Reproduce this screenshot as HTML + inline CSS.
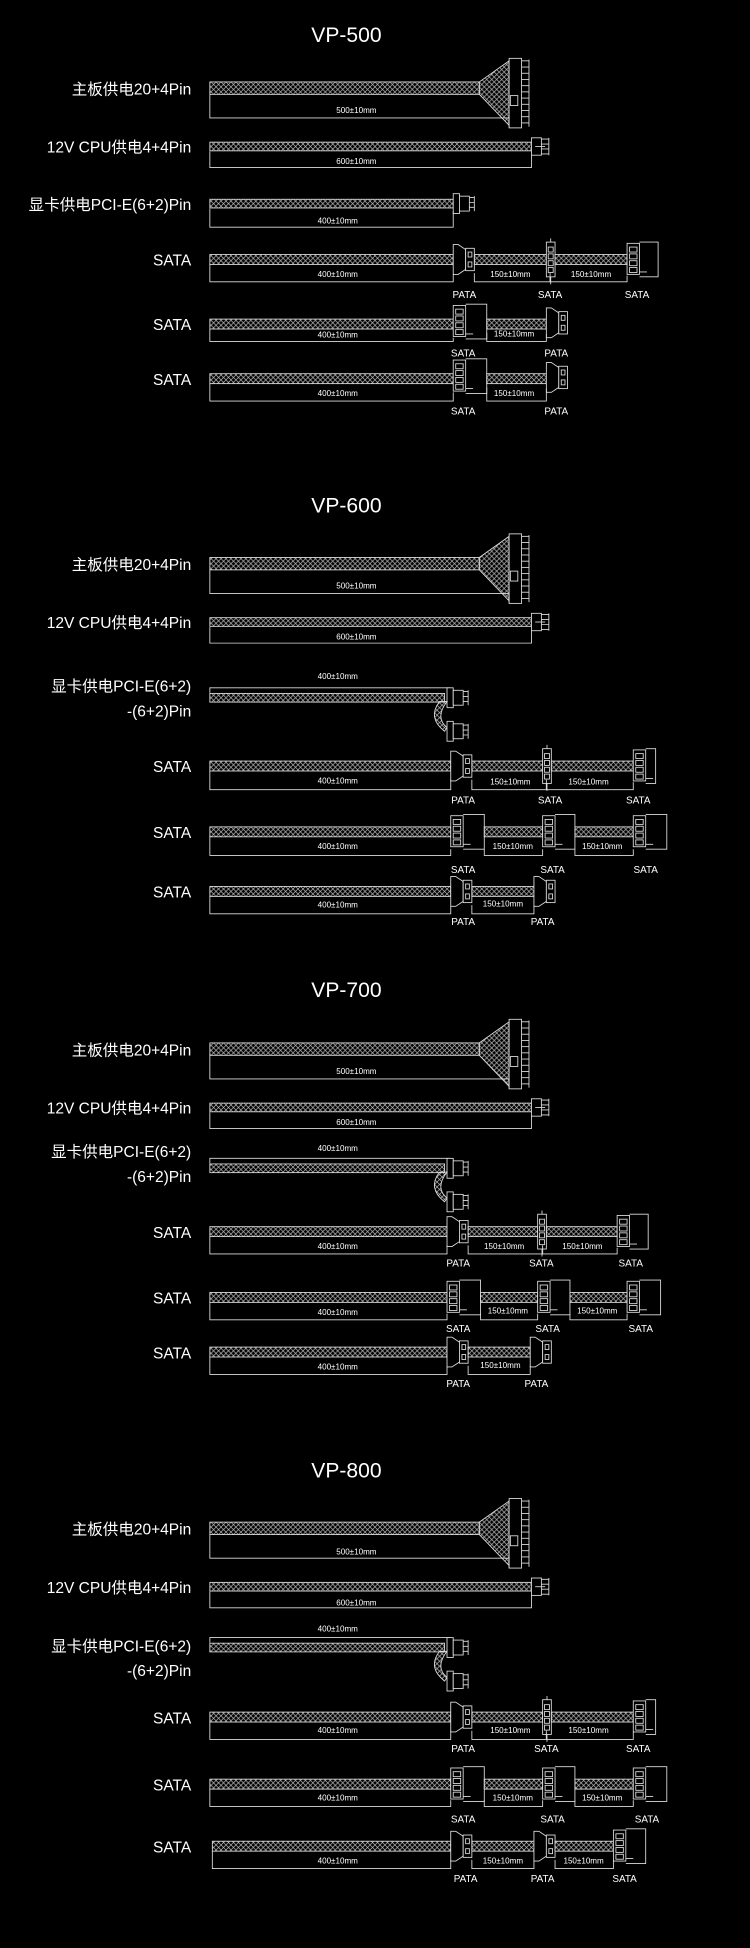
<!DOCTYPE html>
<html><head><meta charset="utf-8"><style>
html,body{margin:0;padding:0;background:#000;}
svg{display:block}
text{fill:#fff;font-family:"Liberation Sans","Noto Sans CJK SC",sans-serif;}
.t{font-size:17px;text-anchor:middle}
.l{font-size:12.5px;text-anchor:end}
.d{font-size:6.5px;text-anchor:middle}
.c{font-size:8px;text-anchor:middle}
</style></head><body>
<svg id="s" width="750" height="1948" viewBox="0 0 604 1569" preserveAspectRatio="none" xmlns="http://www.w3.org/2000/svg">
<defs>
<pattern id="br" width="4" height="4" patternUnits="userSpaceOnUse">
<path d="M0 0L4 4M4 0L0 4" stroke="#bbb" stroke-width="0.55"/>
</pattern>
</defs>
<g id="g" fill="none" stroke="#ddd" stroke-width="0.7"></g>
<text class="t" x="279" y="34">VP-500</text>
<text class="t" x="279" y="413">VP-600</text>
<text class="t" x="279" y="803">VP-700</text>
<text class="t" x="279" y="1190">VP-800</text>
<text class="l" x="154" y="76">主板供电20+4Pin</text>
<text class="l" x="154" y="123">12V CPU供电4+4Pin</text>
<text class="l" x="154" y="169">显卡供电PCI-E(6+2)Pin</text>
<text class="l" x="154" y="214">SATA</text>
<text class="l" x="154" y="266">SATA</text>
<text class="l" x="154" y="310">SATA</text>
<text class="d" x="287" y="91">500±10mm</text>
<text class="d" x="287" y="132">600±10mm</text>
<text class="d" x="272" y="180">400±10mm</text>
<text class="d" x="272" y="223">400±10mm</text>
<text class="d" x="411" y="223">150±10mm</text>
<text class="d" x="476" y="223">150±10mm</text>
<text class="c" x="374" y="240">PATA</text><text class="c" x="443" y="240">SATA</text><text class="c" x="513" y="240">SATA</text>
<text class="d" x="272" y="272">400±10mm</text>
<text class="d" x="414" y="271">150±10mm</text>
<text class="c" x="373" y="287">SATA</text><text class="c" x="448" y="287">PATA</text>
<text class="d" x="272" y="319">400±10mm</text>
<text class="d" x="414" y="319">150±10mm</text>
<text class="c" x="373" y="334">SATA</text><text class="c" x="448" y="334">PATA</text>
<text class="l" x="154" y="459">主板供电20+4Pin</text>
<text class="l" x="154" y="506">12V CPU供电4+4Pin</text>
<text class="l" x="154" y="557">显卡供电PCI-E(6+2)</text>
<text class="l" x="154" y="577">-(6+2)Pin</text>
<text class="l" x="154" y="622">SATA</text>
<text class="l" x="154" y="675">SATA</text>
<text class="l" x="154" y="723">SATA</text>
<text class="d" x="287" y="474">500±10mm</text>
<text class="d" x="287" y="515">600±10mm</text>
<text class="d" x="272" y="547">400±10mm</text>
<text class="d" x="272" y="631">400±10mm</text>
<text class="d" x="411" y="632">150±10mm</text>
<text class="d" x="474" y="632">150±10mm</text>
<text class="c" x="373" y="647">PATA</text><text class="c" x="443" y="647">SATA</text><text class="c" x="514" y="647">SATA</text>
<text class="d" x="272" y="684">400±10mm</text>
<text class="d" x="413" y="684">150±10mm</text>
<text class="d" x="485" y="684">150±10mm</text>
<text class="c" x="373" y="703">SATA</text><text class="c" x="445" y="703">SATA</text><text class="c" x="520" y="703">SATA</text>
<text class="d" x="272" y="731">400±10mm</text>
<text class="d" x="405" y="730">150±10mm</text>
<text class="c" x="373" y="745">PATA</text><text class="c" x="437" y="745">PATA</text>
<text class="l" x="154" y="850">主板供电20+4Pin</text>
<text class="l" x="154" y="897">12V CPU供电4+4Pin</text>
<text class="l" x="154" y="932">显卡供电PCI-E(6+2)</text>
<text class="l" x="154" y="952">-(6+2)Pin</text>
<text class="l" x="154" y="997">SATA</text>
<text class="l" x="154" y="1050">SATA</text>
<text class="l" x="154" y="1094">SATA</text>
<text class="d" x="287" y="865">500±10mm</text>
<text class="d" x="287" y="906">600±10mm</text>
<text class="d" x="272" y="927">400±10mm</text>
<text class="d" x="272" y="1006">400±10mm</text>
<text class="d" x="406" y="1006">150±10mm</text>
<text class="d" x="469" y="1006">150±10mm</text>
<text class="c" x="369" y="1020">PATA</text><text class="c" x="436" y="1020">SATA</text><text class="c" x="508" y="1020">SATA</text>
<text class="d" x="272" y="1059">400±10mm</text>
<text class="d" x="409" y="1058">150±10mm</text>
<text class="d" x="481" y="1058">150±10mm</text>
<text class="c" x="369" y="1073">SATA</text><text class="c" x="441" y="1073">SATA</text><text class="c" x="516" y="1073">SATA</text>
<text class="d" x="272" y="1103">400±10mm</text>
<text class="d" x="403" y="1102">150±10mm</text>
<text class="c" x="369" y="1117">PATA</text><text class="c" x="432" y="1117">PATA</text>
<text class="l" x="154" y="1236">主板供电20+4Pin</text>
<text class="l" x="154" y="1283">12V CPU供电4+4Pin</text>
<text class="l" x="154" y="1330">显卡供电PCI-E(6+2)</text>
<text class="l" x="154" y="1350">-(6+2)Pin</text>
<text class="l" x="154" y="1388">SATA</text>
<text class="l" x="154" y="1442">SATA</text>
<text class="l" x="154" y="1492">SATA</text>
<text class="d" x="287" y="1252">500±10mm</text>
<text class="d" x="287" y="1293">600±10mm</text>
<text class="d" x="272" y="1314">400±10mm</text>
<text class="d" x="272" y="1396">400±10mm</text>
<text class="d" x="411" y="1396">150±10mm</text>
<text class="d" x="474" y="1396">150±10mm</text>
<text class="c" x="373" y="1411">PATA</text><text class="c" x="440" y="1411">SATA</text><text class="c" x="514" y="1411">SATA</text>
<text class="d" x="272" y="1450">400±10mm</text>
<text class="d" x="413" y="1450">150±10mm</text>
<text class="d" x="485" y="1450">150±10mm</text>
<text class="c" x="373" y="1468">SATA</text><text class="c" x="445" y="1468">SATA</text><text class="c" x="521" y="1468">SATA</text>
<text class="d" x="272" y="1501">400±10mm</text>
<text class="d" x="405" y="1501">150±10mm</text>
<text class="d" x="470" y="1501">150±10mm</text>
<text class="c" x="375" y="1516">PATA</text><text class="c" x="437" y="1516">PATA</text><text class="c" x="503" y="1516">SATA</text>
</svg>
<script>
var G=document.getElementById('g'),NS='http://www.w3.org/2000/svg';
function el(t,a){var e=document.createElementNS(NS,t);for(var k in a)e.setAttribute(k,a[k]);G.appendChild(e);return e;}
function R(x,y,w,h,f){el('rect',{x:x,y:y,width:w,height:h,fill:f||'#000'});}
function P(d,f){el('path',{d:d,fill:f||'none'});}
function cab(x1,x2,cy,h){h=h||8;R(x1,cy-h/2,x2-x1,h,'url(#br)');}
function dim(x1,x2,y,t1,t2){P('M'+x1+' '+t1+'V'+y+'H'+x2+'V'+(t2==null?t1:t2));}
function atx(cy){
 cab(169,386,cy,10);
 P('M386 '+(cy-5)+'L410 '+(cy-22)+'V'+(cy+30)+'L386 '+(cy+5)+'Z','url(#br)');
 R(410,cy-24,10,56);R(411,cy+6,6,8);
 for(var i=0;i<11;i++){P('M420 '+(cy-22+i*5)+'H426');}
 P('M426 '+(cy-23)+'V'+(cy+31));
 dim(169,410,cy+24,cy+5,cy+32);
}
function eps(cy){cab(169,428,cy,7);R(428,cy-7,8,14);P('M436 '+(cy-6)+'H442M436 '+(cy-2)+'H442M436 '+(cy+2)+'H442M436 '+(cy+6)+'H442M442 '+(cy-7)+'V'+(cy+7));P('M431 '+cy+'H439');dim(169,428,cy+17,cy+4,cy+7);}
function pcie(x,cy){R(x,cy-8,5,16);R(x+5,cy-6,8,12);P('M'+(x+13)+' '+(cy-5)+'H'+(x+17)+'M'+(x+13)+' '+(cy-1)+'H'+(x+17)+'M'+(x+13)+' '+(cy+3)+'H'+(x+17)+'M'+(x+17)+' '+(cy-6)+'V'+(cy+6));}
function pata(x,cy){P('M'+x+' '+(cy-12)+'H'+(x+4)+'L'+(x+10)+' '+(cy-8)+'V'+(cy+8)+'L'+(x+4)+' '+(cy+12)+'H'+x+'Z','#000');R(x+10,cy-9,7,18);R(x+12,cy-6,3,4);R(x+12,cy+2,3,4);}
function sata(x,cy,w){w=w||27;R(x,cy-13,10,25);for(var i=0;i<4;i++)R(x+2,cy-10+i*5.5,6,4);P('M'+(x+10)+' '+(cy-14)+'H'+(x+w)+'V'+(cy+14)+'H'+(x+10)+'M'+(x+10)+' '+(cy+10)+'H'+(x+16),'none');}
function sInl(x,cy){R(x,cy-14,7,28);for(var i=0;i<4;i++)R(x+1.5,cy-10+i*5.5,4,4);P('M'+(x+3.5)+' '+(cy-17)+'V'+(cy-14)+'M'+(x+3.5)+' '+(cy+14)+'V'+(cy+20));}
function pcieRow(cy){cab(169,358,cy,7);dim(169,362,cy-8,cy-4,cy-4);pcie(360,cy);
 P('M354 '+(cy+3)+'Q344 '+(cy+16)+' 358 '+(cy+27)+'L360 '+(cy+24)+'Q350 '+(cy+16)+' 360 '+(cy+3)+'Z','url(#br)');
 pcie(360,cy+27);}
atx(71);eps(118);
cab(169,365,164,7);pcie(365,164);dim(169,365,183,168,170);
cab(169,365,209);pata(365,209);cab(382,440,209);sInl(440,209);cab(447,505,209);sata(505,209,25);
dim(169,365,227,213,221);dim(382,443,227,220,220);dim(443,505,227,223,222);
cab(169,365,261);sata(365,259,27);cab(392,440,261);pata(440,260);dim(169,365,275,265,272);dim(392,440,275,268,269);
cab(169,365,305);sata(365,303,27);cab(392,440,305);pata(440,304);dim(169,365,323,309,316);dim(392,440,323,312,313);
atx(454);eps(501);pcieRow(562);
cab(169,363,617);pata(363,617);cab(380,437,617);sInl(437,617);cab(444,510,617);sata(510,617,18);
dim(169,363,636,621,628);dim(380,440,636,628,628);dim(440,510,636,631,630);
cab(169,363,670);sata(363,670,27);cab(390,437,670);sata(437,670,26);cab(463,510,670);sata(510,670,27);
dim(169,363,689,674,684);dim(390,437,689,684,684);dim(463,510,689,684,684);
cab(169,363,718);pata(363,718);cab(380,430,718);pata(430,718);dim(169,363,736,722,730);dim(380,430,736,729,729);
atx(845);eps(892);pcieRow(941);
cab(169,360,992);pata(360,992);cab(377,433,992);sInl(433,992);cab(440,497,992);sata(497,992,25);
dim(169,360,1010,996,1003);dim(377,437,1010,1003,1003);dim(437,497,1010,1006,1005);
cab(169,360,1045);sata(360,1045,27);cab(387,433,1045);sata(433,1045,26);cab(459,505,1045);sata(505,1045,27);
dim(169,360,1063,1049,1058);dim(387,433,1063,1058,1058);dim(459,505,1063,1058,1058);
cab(169,360,1089);pata(360,1089);cab(377,427,1089);pata(427,1089);dim(169,360,1107,1093,1101);dim(377,427,1107,1100,1100);
atx(1231);eps(1278);pcieRow(1327);
cab(169,363,1383);pata(363,1383);cab(380,437,1383);sInl(437,1383);cab(444,510,1383);sata(510,1383,18);
dim(169,363,1401,1387,1394);dim(380,440,1401,1394,1394);dim(440,510,1401,1396,1395);
cab(169,363,1437);sata(363,1437,27);cab(390,437,1437);sata(437,1437,26);cab(463,510,1437);sata(510,1437,27);
dim(169,363,1455,1441,1450);dim(390,437,1455,1450,1450);dim(463,510,1455,1450,1450);
cab(171,363,1487);pata(363,1487);cab(380,430,1487);pata(430,1487);cab(447,494,1487);sata(494,1487,26);
dim(171,363,1505,1491,1498);dim(380,430,1505,1498,1498);dim(447,494,1505,1498,1498);
</script>
</body></html>
